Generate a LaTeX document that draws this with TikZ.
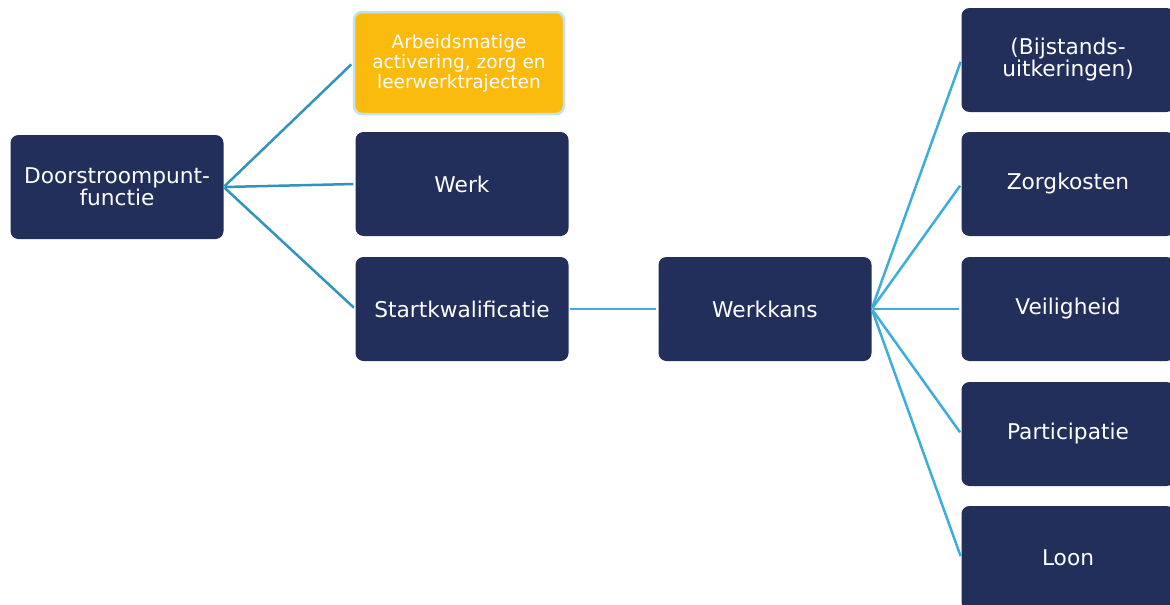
\documentclass[tikz,border=0pt]{standalone}
\usepackage{fontspec}
\setmainfont{DejaVu Sans}
\definecolor{navy}{HTML}{222F5B}
\definecolor{amber}{HTML}{FBBA0E}
\definecolor{paleblue}{HTML}{BFE3F2}
\definecolor{tealline}{HTML}{2F95BE}
\definecolor{skyline}{HTML}{3DADDB}
\begin{document}
\begin{tikzpicture}[x=1pt,y=-1pt,
    box/.style={fill=navy, rounded corners=8pt, minimum width=213pt, minimum height=104pt,
        inner sep=0pt, text=white, align=center, font=\fontsize{21.7}{22}\selectfont},
    link/.style={line width=2.5pt, shorten <=1pt, shorten >=2pt}]
        \useasboundingbox (0,0) rectangle (1170,605);
        \clip (0,0) rectangle (1170,605);
        % left part
        \node [box] (doors) at (117,187) {Doorstroompunt-\\functie};
        \node [box, fill=amber, draw=paleblue, line width=2.5pt, minimum width=210pt, minimum height=102pt,
            font=\fontsize{18.5}{20}\selectfont] (arbeid) at (459,63) {Arbeidsmatige\\activering, zorg en\\leerwerktrajecten};
        \node [box] (werk) at (462,184) {Werk};
        \node [box] (start) at (462,309) {Startkwalificatie};
        \node [box] (kans) at (765,309) {Werkkans};
        % right column
        \node [box] (bijstand) at (1068,60) {(Bijstands-\\uitkeringen)};
        \node [box] (zorg) at (1068,184) {Zorgkosten};
        \node [box] (veilig) at (1068,309) {Veiligheid};
        \node [box] (partic) at (1068,434) {Participatie};
        \node [box] (loon) at (1068,558) {Loon};
        \draw [link, tealline] (doors.east) -- (arbeid.west);
        \draw [link, tealline] (doors.east) -- (werk.west);
        \draw [link, tealline] (doors.east) -- (start.west);
        \draw [link, skyline] (start.east) -- (kans.west);
        \draw [link, skyline] (kans.east) -- (bijstand.west);
        \draw [link, skyline] (kans.east) -- (zorg.west);
        \draw [link, skyline] (kans.east) -- (veilig.west);
        \draw [link, skyline] (kans.east) -- (partic.west);
        \draw [link, skyline] (kans.east) -- (loon.west);
\end{tikzpicture}
\end{document}
